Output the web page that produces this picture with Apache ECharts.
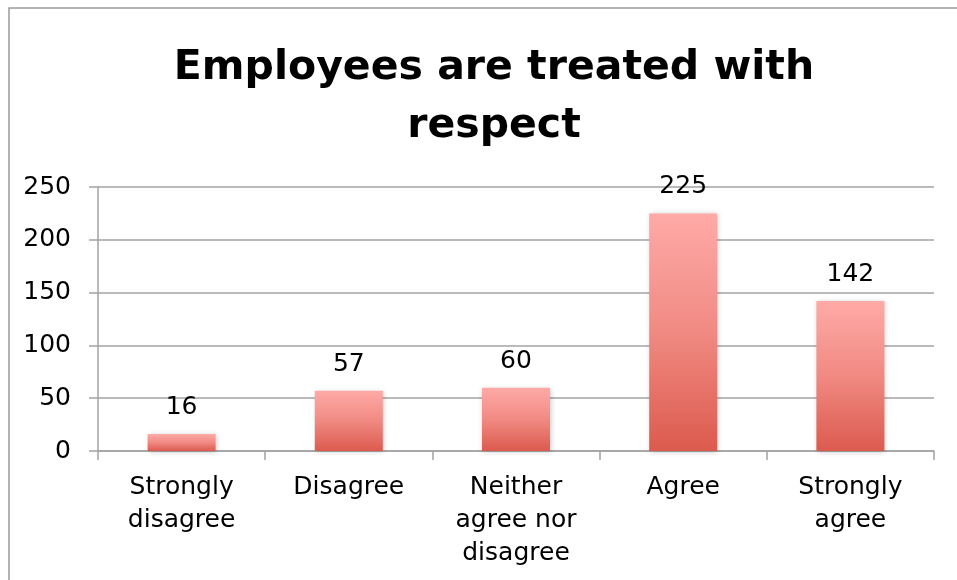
<!DOCTYPE html>
<html>
<head>
<meta charset="utf-8">
<title>Employees are treated with respect</title>
<script src="https://cdn.jsdelivr.net/npm/echarts@6/dist/echarts.min.js"></script>
<style>
  html, body { margin: 0; padding: 0; background: #fff; }
  #chart { width: 957px; height: 580px; }
</style>
</head>
<body>
<div id="chart"></div>
<script>
// Survey responses: "Employees are treated with respect"
const categories = ['Strongly\ndisagree', 'Disagree', 'Neither\nagree nor\ndisagree', 'Agree', 'Strongly\nagree'];
const counts = [16, 57, 60, 225, 142];
const yTicks = [0, 50, 100, 150, 200, 250];

const FONT = '"DejaVu Sans", sans-serif';
const GRID_GRAY = '#a3a3a3';

const chart = echarts.init(document.getElementById('chart'), null, { renderer: 'canvas' });

chart.setOption({
  animation: false,
  backgroundColor: '#fff',
  title: {
    text: 'Employees are treated with\nrespect',
    left: 489,
    top: 34,
    textAlign: 'center',
    textStyle: {
      fontFamily: FONT,
      fontWeight: 'bold',
      fontSize: 41,
      lineHeight: 58,
      color: '#000'
    }
  },
  // frame around the chart area
  graphic: [{
    type: 'rect',
    shape: { x: 9, y: 8, width: 1000, height: 700 },
    style: { fill: null, stroke: '#9a9a9a', lineWidth: 1.5 },
    silent: true,
    z: 0
  }],
  grid: { left: 98, right: 23, top: 187, bottom: 129, containLabel: false },
  xAxis: {
    type: 'category',
    data: categories,
    boundaryGap: true,
    axisLine: { show: true, lineStyle: { color: GRID_GRAY, width: 1.5 } },
    axisTick: { show: true, alignWithLabel: false, length: 9, lineStyle: { color: GRID_GRAY, width: 1.5 } },
    axisLabel: {
      interval: 0,
      margin: 20,
      fontFamily: FONT,
      fontSize: 25,
      lineHeight: 33,
      color: '#000',
      align: 'center'
    }
  },
  yAxis: {
    type: 'value',
    min: yTicks[0],
    max: yTicks[yTicks.length - 1],
    interval: yTicks[1] - yTicks[0],
    axisLine: { show: true, lineStyle: { color: GRID_GRAY, width: 1.5 } },
    axisTick: { show: true, length: 9, lineStyle: { color: GRID_GRAY, width: 1.5 } },
    splitLine: { show: true, lineStyle: { color: GRID_GRAY, width: 1.5 } },
    axisLabel: {
      margin: 27,
      fontFamily: FONT,
      fontSize: 25,
      color: '#000'
    }
  },
  series: [{
    type: 'bar',
    data: counts,
    barWidth: 68,
    itemStyle: {
      color: new echarts.graphic.LinearGradient(0, 0, 0, 1, [
        { offset: 0, color: '#ffaaa7' },
        { offset: 0.5, color: '#f08a82' },
        { offset: 1, color: '#dc5a4e' }
      ]),
      shadowColor: 'rgba(0,0,0,0.22)',
      shadowBlur: 5,
      shadowOffsetX: 1,
      shadowOffsetY: 1
    },
    label: {
      show: true,
      position: 'top',
      distance: 14,
      fontFamily: FONT,
      fontSize: 25,
      color: '#000'
    }
  }]
});
</script>
</body>
</html>
